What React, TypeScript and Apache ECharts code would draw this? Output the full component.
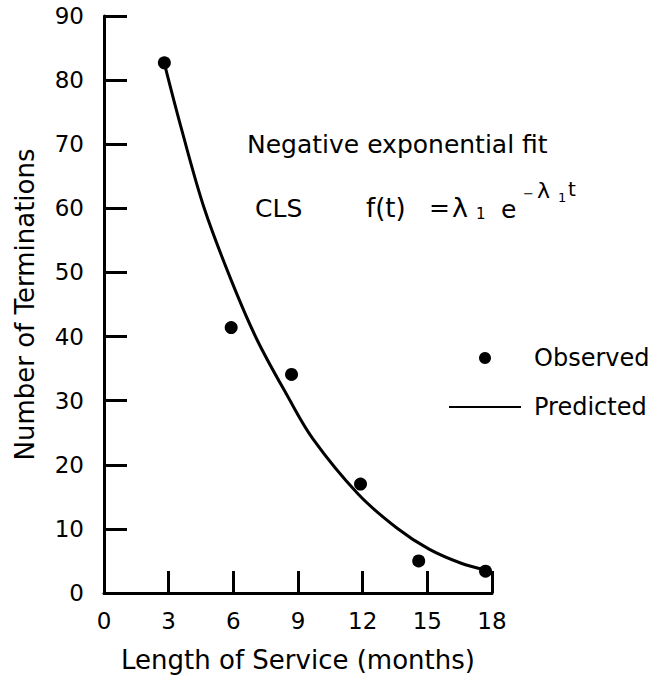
import React, { useEffect, useRef } from "react";
import * as echarts from "echarts";

const xTicks = [0, 3, 6, 9, 12, 15, 18];
const yTicks = [0, 10, 20, 30, 40, 50, 60, 70, 80, 90];

const observedT = [2.8, 5.9, 8.7, 11.9, 14.6, 17.7];
const observedN = [82.7, 41.4, 34.1, 17.0, 5.0, 3.4];

const predictedT = [2.8, 3.6, 4.65, 5.9, 7.1, 8.5, 9.7, 11.8, 13.6, 15.1, 16.6, 17.7];
const predictedN = [82.6, 72.3, 60.0, 48.8, 39.5, 30.8, 24.0, 15.4, 10.1, 6.8, 4.6, 3.6];

const FONT = "DejaVu Sans";

export default function App() {
  const ref = useRef<HTMLDivElement>(null);

  useEffect(() => {
    document.body.style.margin = "0";
    if (!ref.current) return;
    const chart = echarts.init(ref.current, null, { renderer: "svg" });

    const axisCommon = {
      type: "value" as const,
      axisLine: { show: true, onZero: false, lineStyle: { color: "#000", width: 3 } },
      axisTick: { show: true, inside: true, lineStyle: { color: "#000", width: 3 } },
      splitLine: { show: false },
      axisLabel: { color: "#000", fontSize: 23, fontFamily: FONT },
      nameTextStyle: { color: "#000", fontSize: 26, fontFamily: FONT },
    };

    const txt = (x: number, y: number, text: string, size: number) => ({
      type: "text",
      x,
      y,
      style: {
        text,
        fill: "#000",
        fontSize: size,
        fontFamily: FONT,
        verticalAlign: "middle",
        align: "left",
      },
    });

    chart.setOption({
      animation: false,
      backgroundColor: "#fff",
      grid: { left: 104, right: 168, top: 16, bottom: 96, containLabel: false },
      xAxis: {
        ...axisCommon,
        min: xTicks[0],
        max: xTicks[xTicks.length - 1],
        interval: 3,
        axisTick: { ...axisCommon.axisTick, length: 22 },
        axisLabel: { ...axisCommon.axisLabel, margin: 16 },
        name: "Length of Service (months)",
        nameLocation: "middle",
        nameGap: 54,
      },
      yAxis: {
        ...axisCommon,
        min: yTicks[0],
        max: yTicks[yTicks.length - 1],
        interval: 10,
        axisTick: { ...axisCommon.axisTick, length: 23 },
        axisLabel: { ...axisCommon.axisLabel, margin: 20 },
        name: "Number of Terminations",
        nameLocation: "middle",
        nameGap: 66,
      },
      legend: {
        orient: "vertical",
        left: 443,
        top: 341,
        itemWidth: 72,
        itemHeight: 12,
        itemGap: 25,
        data: [
          { name: "Observed", icon: "circle" },
          { name: "Predicted", itemStyle: { opacity: 0 } },
        ],
        textStyle: {
          color: "#000",
          fontSize: 24,
          fontFamily: FONT,
          lineHeight: 24,
          padding: [0, 0, 0, 8],
        },
      },
      series: [
        {
          name: "Predicted",
          type: "line",
          smooth: 0.35,
          symbol: "none",
          showSymbol: false,
          lineStyle: { color: "#000", width: 3 },
          itemStyle: { color: "#000" },
          data: predictedT.map((t, i) => [t, predictedN[i]]),
        },
        {
          name: "Observed",
          type: "scatter",
          symbol: "circle",
          symbolSize: 13,
          itemStyle: { color: "#000", opacity: 1 },
          data: observedT.map((t, i) => [t, observedN[i]]),
        },
      ],
      graphic: [
        txt(247, 144, "Negative exponential fit", 25),
        txt(255, 208, "CLS", 25),
        txt(366, 208, "f(t)", 26),
        txt(429, 207, "=", 25),
        txt(452, 207, "λ", 27),
        txt(476, 214, "1", 15),
        txt(501, 209, "e", 25),
        txt(523, 193, "−", 13),
        txt(537, 190, "λ", 22),
        txt(558, 197, "1", 13),
        txt(568, 189, "t", 20),
      ],
    });

    return () => chart.dispose();
  }, []);

  return <div ref={ref} style={{ width: 660, height: 689 }} />;
}
